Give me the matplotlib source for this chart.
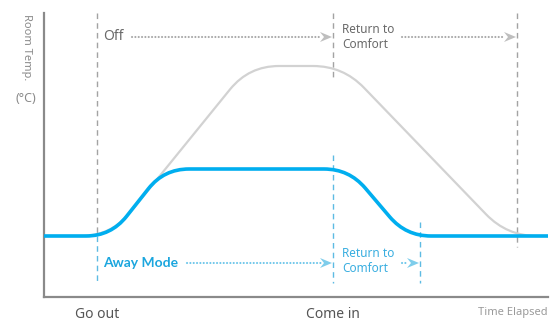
import numpy as np
import matplotlib
matplotlib.use("Agg")
import matplotlib.pyplot as plt
from matplotlib.path import Path
from matplotlib.patches import PathPatch, Polygon

plt.rcParams['font.family'] = ['Noto Sans', 'DejaVu Sans']

# Key moments on the time axis
t_go_out = 53
t_come_in = 289
t_away_back = 376
t_off_back = 473
t_end = 504

# Temperature profile with Away Mode (corner points)
away_t = [0, 67, 120, 305, 362, 504]
away_temp = [61, 61, 128, 128, 61, 61]

# Temperature profile with the unit switched off (corner points)
off_t = [0, 67, 205, 299, 463, 504]
off_temp = [61, 61, 231, 231, 61, 61]

temp_top = 284

BLUE = '#00AEEF'
BLUE_LIGHT = '#5DBBE3'
BLUE_HEAD = '#7ECDEB'
GRAY_CURVE = '#D2D2D2'
GRAY_DASH = '#A3A3A3'
GRAY_TEXT = '#6A6A6A'
GRAY_HEAD = '#BEBEBE'
AXIS = '#8A8A8A'


def rounded_path(xs, ys, r):
    """Polyline through the corner points, with each inner corner rounded."""
    pts = np.column_stack([xs, ys]).astype(float)
    verts = [pts[0]]
    codes = [Path.MOVETO]
    for i in range(1, len(pts) - 1):
        p, v, n = pts[i - 1], pts[i], pts[i + 1]
        d_in = (v - p) / np.linalg.norm(v - p)
        d_out = (n - v) / np.linalg.norm(n - v)
        verts += [v - r * d_in, v, v + r * d_out]
        codes += [Path.LINETO, Path.CURVE3, Path.CURVE3]
    verts.append(pts[-1])
    codes.append(Path.LINETO)
    return Path(verts, codes)


def dart(ax, x_tip, y, color, length=12, half=5, notch=4):
    head = Polygon([(x_tip, y), (x_tip - length, y + half),
                    (x_tip - length + notch, y), (x_tip - length, y - half)],
                   closed=True, facecolor=color, edgecolor='none', zorder=4)
    ax.add_patch(head)


def dotted_arrow(ax, x0, x_tip, y, dot_color, head_color):
    ax.plot([x0, x_tip - 11], [y, y], color=dot_color, lw=1.5,
            linestyle=(0, (0.05, 1.55)), dash_capstyle='round', zorder=3)
    dart(ax, x_tip, y, head_color)


fig = plt.figure(figsize=(5.51, 3.24), dpi=100)
ax = fig.add_axes([44 / 551, 27 / 324, 504 / 551, 284 / 324])
ax.set_xlim(0, t_end)
ax.set_ylim(0, temp_top)

# Event markers
dash = (0, (4, 3))
ax.plot([t_go_out] * 2, [temp_top, away_temp[0]], color=GRAY_DASH, lw=1, ls=dash)
ax.plot([t_go_out] * 2, [away_temp[0], 14], color=BLUE_LIGHT, lw=1, ls=dash)
ax.plot([t_come_in] * 2, [temp_top, off_temp[2] - 12], color=GRAY_DASH, lw=1, ls=dash)
ax.plot([t_come_in] * 2, [away_temp[2] + 14, 14], color=BLUE_LIGHT, lw=1, ls=dash)
ax.plot([t_away_back] * 2, [away_temp[0] + 14, 14], color=BLUE_LIGHT, lw=1, ls=dash)
ax.plot([t_off_back] * 2, [temp_top, off_temp[0] - 11], color=GRAY_DASH, lw=1, ls=dash)

# Temperature curves
ax.add_patch(PathPatch(rounded_path(off_t, off_temp, 30), facecolor='none',
                       edgecolor=GRAY_CURVE, lw=1.6, zorder=2))
ax.add_patch(PathPatch(rounded_path(away_t, away_temp, 25), facecolor='none',
                       edgecolor=BLUE, lw=2.6, zorder=3, capstyle='butt'))

# Upper annotation: unit switched off
y_off = 260
ax.text(t_go_out + 6, y_off, 'Off', color=GRAY_TEXT, fontsize=10,
        ha='left', va='center')
dotted_arrow(ax, 88, t_come_in - 1, y_off, '#A8A8A8', GRAY_HEAD)
ax.text(t_come_in + 9, y_off, 'Return to\nComfort', color=GRAY_TEXT,
        fontsize=8.5, ha='left', va='center', linespacing=1.15)
dotted_arrow(ax, 358, t_off_back - 1, y_off, '#A8A8A8', GRAY_HEAD)

# Lower annotation: Away Mode
y_away = 34
ax.text(t_go_out + 6, y_away, 'Away Mode', color='#1BA6DE', fontsize=10,
        fontweight='bold', family=['Lato', 'DejaVu Sans'], ha='left',
        va='center')
dotted_arrow(ax, 143, t_come_in - 1, y_away, '#6CC6EA', BLUE_HEAD)
ax.text(t_come_in + 9, y_away + 2, 'Return to\nComfort', color='#3AAEE0',
        fontsize=8.5, ha='left', va='center', linespacing=1.15)
dotted_arrow(ax, 358, t_away_back - 1, y_away, '#6CC6EA', BLUE_HEAD)

# Axes
for side in ('top', 'right'):
    ax.spines[side].set_visible(False)
for side in ('left', 'bottom'):
    ax.spines[side].set_color(AXIS)
    ax.spines[side].set_linewidth(1.6)
ax.set_yticks([])
ax.set_xticks([t_go_out, t_come_in], ['Go out', 'Come in'])
ax.tick_params(axis='x', length=0, pad=7, labelsize=10, labelcolor='#555555')

ax.text(1.0, -0.055, 'Time Elapsed', transform=ax.transAxes, ha='right',
        va='center', fontsize=8, color='#9A9A9A')
ax.text(-0.034, 0.996, 'Room Temp.', transform=ax.transAxes, rotation=-90,
        ha='center', va='top', fontsize=8, color='#8A8A8A')
ax.text(-0.035, 0.70, '(°C)', transform=ax.transAxes, ha='center',
        va='center', fontsize=9, color='#8A8A8A')

fig.savefig('out.png', dpi=100)
